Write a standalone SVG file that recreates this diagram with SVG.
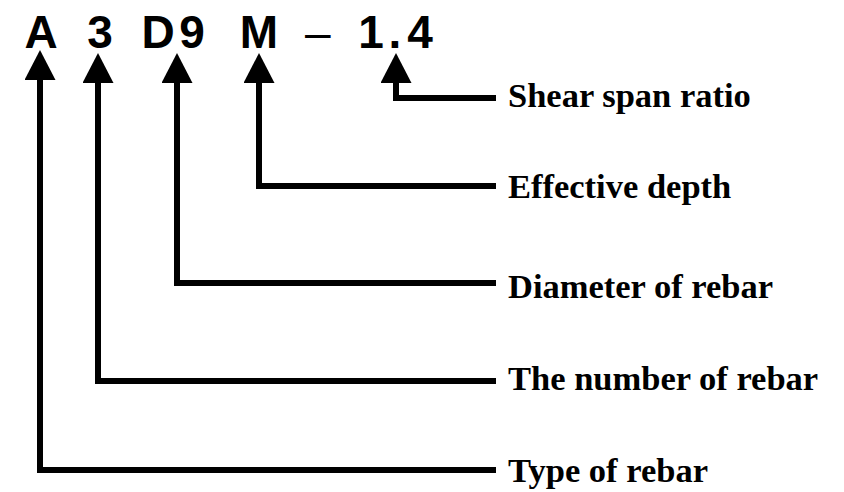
<svg xmlns="http://www.w3.org/2000/svg" width="844" height="492" viewBox="0 0 844 492">
<style>
.code{font-family:"Liberation Sans",Arial,sans-serif;font-weight:bold;font-size:46px;fill:#000;text-anchor:middle}
.dash{font-family:"Liberation Sans",Arial,sans-serif;font-weight:normal;font-size:46px;fill:#000}
.lbl{font-family:"Liberation Serif","Times New Roman",serif;font-weight:bold;font-size:34.5px;fill:#000}
.conn{fill:none;stroke:#000;stroke-width:6;stroke-linejoin:miter;stroke-linecap:butt}
</style>
<defs>
<marker id="ah" markerUnits="userSpaceOnUse" markerWidth="30" markerHeight="31" viewBox="0 0 29 30" refX="0" refY="15" orient="auto-start-reverse">
<path d="M0,0 L29,15 L0,30 Z" fill="#000"/>
</marker>
</defs>
<rect width="844" height="492" fill="#fff"/>
<g id="code">
<text class="code" x="41" y="48">A</text>
<text class="code" x="100" y="48">3</text>
<text class="code" x="158" y="48">D</text>
<text class="code" x="192" y="48">9</text>
<text class="code" x="259" y="48">M</text>
<text class="dash" x="305" y="48">–</text>
<text class="code" x="371" y="48">1</text>
<text class="code" x="395" y="48">.</text>
<text class="code" x="420" y="48">4</text>
</g>
<g id="connectors">
<path class="conn" marker-start="url(#ah)" d="M40,80 V470 H496"/>
<path class="conn" marker-start="url(#ah)" d="M98,83 V381 H496"/>
<path class="conn" marker-start="url(#ah)" d="M177,83 V283 H496"/>
<path class="conn" marker-start="url(#ah)" d="M259,83 V186 H496"/>
<path class="conn" marker-start="url(#ah)" d="M396,83 V98 H496"/>
</g>
<g id="label-shear"><text class="lbl" x="508" y="107">Shear span ratio</text></g>
<g id="label-depth"><text class="lbl" x="508" y="198">Effective depth</text></g>
<g id="label-diameter"><text class="lbl" x="508" y="298">Diameter of rebar</text></g>
<g id="label-number"><text class="lbl" x="508" y="390">The number of rebar</text></g>
<g id="label-type"><text class="lbl" x="508" y="482">Type of rebar</text></g>
</svg>
